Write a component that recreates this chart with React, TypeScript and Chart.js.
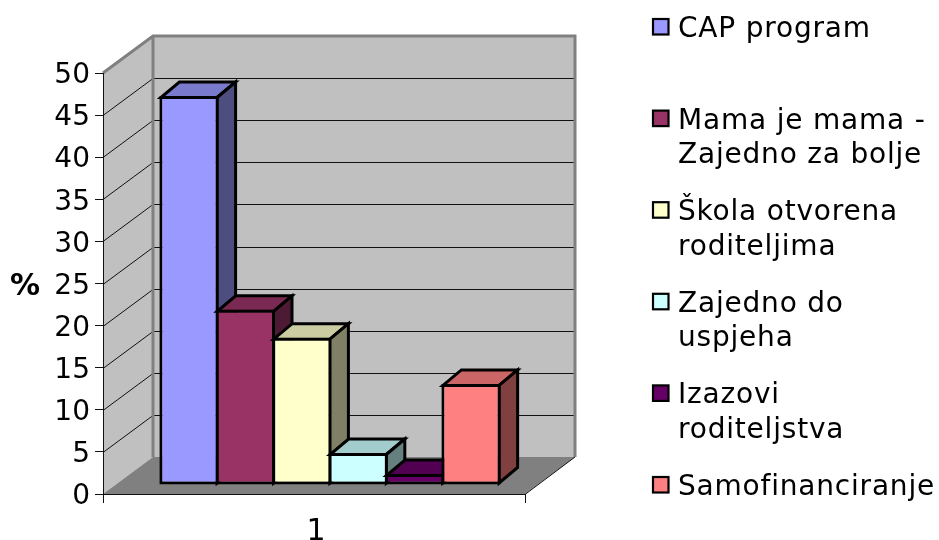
import React, { useEffect, useRef } from "react";
import { Chart, registerables } from "chart.js";

Chart.register(...registerables);

const categories = ["1"];
const seriesNames = [
  "CAP program",
  "Mama je mama - Zajedno za bolje",
  "Škola otvorena roditeljima",
  "Zajedno do uspjeha",
  "Izazovi roditeljstva",
  "Samofinanciranje",
];
const legendLines = [
  ["CAP program"],
  ["Mama je mama -", "Zajedno za bolje"],
  ["Škola otvorena", "roditeljima"],
  ["Zajedno do", "uspjeha"],
  ["Izazovi", "roditeljstva"],
  ["Samofinanciranje"],
];
const seriesValues = [46.2, 20.8, 17.5, 3.8, 1.3, 12.0];
const frontColors = ["#9999ff", "#993366", "#ffffcc", "#ccffff", "#660066", "#ff8080"];
const topColors = ["#7a7acc", "#7a2952", "#cccca3", "#a3cccc", "#520052", "#cc6666"];
const sideColors = ["#4d4d80", "#4d1a33", "#808066", "#668080", "#330033", "#804040"];
const axisTitle = "%";

const FONT = '"DejaVu Sans", Verdana, sans-serif';
const WALL_DX = 50;
const WALL_DY = -37;
const BAR_DX = 16;
const BAR_DY = -9;
const DEPTH_X = 18.5;
const DEPTH_Y = -15.5;
const BORDER = 3;

function poly(ctx: CanvasRenderingContext2D, pts: number[][], fill: string | null, stroke: string | null, lw = 1) {
  ctx.beginPath();
  pts.forEach((p, i) => (i ? ctx.lineTo(p[0], p[1]) : ctx.moveTo(p[0], p[1])));
  ctx.closePath();
  if (fill) {
    ctx.fillStyle = fill;
    ctx.fill();
  }
  if (stroke) {
    ctx.strokeStyle = stroke;
    ctx.lineWidth = lw;
    ctx.lineJoin = "miter";
    ctx.stroke();
  }
}

const box3d = {
  id: "box3d",
  beforeDraw(chart: any) {
    const { ctx, chartArea: a, scales } = chart;
    const { left: l, right: r, top: t, bottom: b } = a;
    ctx.save();
    ctx.fillStyle = "#ffffff";
    ctx.fillRect(0, 0, chart.width, chart.height);
    const bl = l + WALL_DX;
    const br = r + WALL_DX;
    const bt = t + WALL_DY;
    const bb = b + WALL_DY;
    poly(ctx, [[l, t], [bl, bt], [bl, bb], [l, b]], "#c0c0c0", null);
    poly(ctx, [[bl, bt], [br, bt], [br, bb], [bl, bb]], "#c0c0c0", null);
    poly(ctx, [[l, b], [r, b], [br, bb], [bl, bb]], "#808080", null);
    // walls' grid, from the value axis
    ctx.strokeStyle = "#111111";
    ctx.lineWidth = 1;
    scales.y.ticks.forEach((tk: any) => {
      if (tk.value === 0 || tk.value === 50) return;
      const y = Math.round(scales.y.getPixelForValue(tk.value)) + 0.5;
      ctx.beginPath();
      ctx.moveTo(l, y);
      ctx.lineTo(bl, y + WALL_DY);
      ctx.lineTo(br, y + WALL_DY);
      ctx.stroke();
    });
    // wall edges
    ctx.strokeStyle = "#808080";
    ctx.lineWidth = 3;
    ctx.beginPath();
    ctx.moveTo(l, t);
    ctx.lineTo(bl, bt);
    ctx.lineTo(br, bt);
    ctx.lineTo(br, bb);
    ctx.moveTo(bl, bt);
    ctx.lineTo(bl, bb);
    ctx.stroke();
    // floor's front edges
    ctx.strokeStyle = "#111111";
    ctx.lineWidth = 1;
    ctx.beginPath();
    ctx.moveTo(l, b + 0.5);
    ctx.lineTo(r, b + 0.5);
    ctx.lineTo(br, bb);
    ctx.stroke();
    ctx.restore();
  },
  beforeDatasetsDraw(chart: any) {
    const { ctx } = chart;
    ctx.save();
    ctx.translate(BAR_DX, BAR_DY);
    // painted left to right so that each box covers the sides of the box before it
    seriesValues.forEach((_, i) => {
      const meta = chart.getDatasetMeta(i);
      meta.data.forEach((bar: any) => {
        const { x, y, base, width } = bar.getProps(["x", "y", "base", "width"], true);
        const h = BORDER / 2;
        const x1 = x - width / 2 + h;
        const x2 = x + width / 2 - h;
        const yt = y + h;
        const yb = base - h;
        poly(ctx, [[x1, yt], [x2, yt], [x2 + DEPTH_X, yt + DEPTH_Y], [x1 + DEPTH_X, yt + DEPTH_Y]], topColors[i], "#000000", BORDER);
        poly(ctx, [[x2, yt], [x2 + DEPTH_X, yt + DEPTH_Y], [x2 + DEPTH_X, yb + DEPTH_Y], [x2, yb]], sideColors[i], "#000000", BORDER);
      });
      meta.controller.draw();
    });
    ctx.restore();
    return false;
  },
  afterDraw(chart: any) {
    const { ctx } = chart;
    ctx.save();
    // axis title
    ctx.fillStyle = "#000000";
    ctx.font = `bold 30px ${FONT}`;
    ctx.textAlign = "center";
    ctx.textBaseline = "alphabetic";
    ctx.fillText(axisTitle, 25, 295);
    // legend
    ctx.font = `28px ${FONT}`;
    ctx.textAlign = "left";
    (ctx as any).letterSpacing = "0.8px";
    legendLines.forEach((lines, i) => {
      const top = 18 + i * 91.6;
      ctx.fillStyle = frontColors[i];
      ctx.fillRect(653, top + 1, 15.5, 15.5);
      ctx.strokeStyle = "#000000";
      ctx.lineWidth = 2.2;
      ctx.strokeRect(653, top + 1, 15.5, 15.5);
      ctx.fillStyle = "#000000";
      lines.forEach((line, j) => {
        ctx.fillText(line, 678, top + 19 + j * 34.5);
      });
    });
    ctx.restore();
  },
};

export default function App() {
  const ref = useRef<HTMLCanvasElement>(null);
  useEffect(() => {
    const chart = new Chart(ref.current as HTMLCanvasElement, {
      type: "bar",
      data: {
        labels: categories,
        datasets: seriesNames.map((name, i) => ({
          label: name,
          data: [seriesValues[i]],
          backgroundColor: frontColors[i],
          borderColor: "#000000",
          borderWidth: BORDER,
          borderSkipped: false,
          categoryPercentage: 0.802,
          barPercentage: 1.05,
        })),
      },
      options: {
        responsive: false,
        animation: false,
        layout: { padding: { left: 0, right: 414, top: 73, bottom: 0 } },
        plugins: { legend: { display: false }, title: { display: false }, tooltip: { enabled: false } },
        scales: {
          x: {
            offset: true,
            grid: { offset: true, drawOnChartArea: false, drawTicks: true, tickLength: 9, color: "#111111" },
            border: { color: "#111111" },
            ticks: { color: "#000000", font: { family: FONT, size: 30 }, padding: 11, maxRotation: 0, labelOffset: 2 },
            afterFit(s: any) {
              s.height = 46;
            },
          },
          y: {
            min: 0,
            max: 50,
            grid: { drawOnChartArea: false, drawTicks: true, tickLength: 8, color: "#111111" },
            border: { color: "#111111" },
            ticks: { stepSize: 5, color: "#000000", font: { family: FONT, size: 28 }, padding: 5, labelOffset: 3 },
            afterFit(s: any) {
              s.width = 103;
            },
          },
        },
      },
      plugins: [box3d],
    } as any);
    return () => chart.destroy();
  }, []);
  return (
    <div style={{ position: "absolute", left: 0, top: 0, width: 939, height: 540 }}>
      <canvas ref={ref} width={939} height={540} style={{ display: "block" }} />
    </div>
  );
}
